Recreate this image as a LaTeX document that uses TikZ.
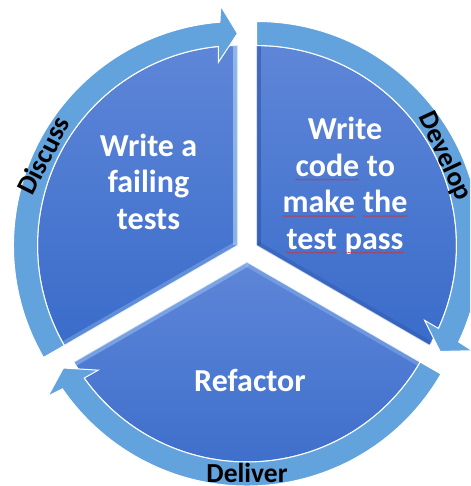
\documentclass[tikz,border=0pt]{standalone}
\usepackage{fontspec}
\setmainfont{Carlito}
\usetikzlibrary{decorations.pathmorphing}

\definecolor{ringblue}{RGB}{98,163,222}
\definecolor{pietop}{RGB}{94,134,216}
\definecolor{piebottom}{RGB}{58,108,202}
\definecolor{bevellight}{RGB}{160,198,242}
\definecolor{beveldark}{RGB}{40,78,160}
\definecolor{squigred}{RGB}{205,50,60}

% word with a red wavy underline, as left by a spell checker
\newcommand\spellmark[1]{%
  \tikz[baseline=0pt]{%
    \node[inner sep=0pt, anchor=base] (sw) at (0,0) {#1};
    \draw[squigred, line width=0.5pt, decorate,
          decoration={snake, amplitude=0.6pt, segment length=3pt}]
      ([yshift=-3.5pt]sw.base west) -- ([yshift=-3.5pt]sw.base east);}}

% curved cycle arrow: #1 centre, #2 start angle, #3 angle of the tip (clockwise)
\newcommand\ringarrow[3]{%
  \begin{scope}[shift={(#1)}]
    \path[ringarrow] (#2:224) arc[start angle=#2, end angle=#3+4.5, radius=224]
      -- (#3+4:240) -- (#3:212) -- (#3+6:184) -- (#3+5.5:200)
      arc[start angle=#3+5.5, end angle=#2, radius=200] -- cycle;
  \end{scope}}

\begin{document}
\begin{tikzpicture}[x=1pt,y=1pt,
  sectorfill/.style={top color=pietop, bottom color=piebottom, draw=white, line width=1.2pt},
  ringarrow/.style={fill=ringblue, draw=white, line width=1pt, line join=miter},
  steptext/.style={text=white, font=\fontsize{32}{36.5}\selectfont\bfseries, align=center, inner sep=0pt},
  cyclabel/.style={text=black, font=\fontsize{27.5}{30}\selectfont\bfseries, inner sep=0pt, text height=13pt, text depth=0pt},
  bevel/.style={line width=9pt, line cap=butt}]
\useasboundingbox (0,0) rectangle (470,486);
\clip (0,0) rectangle (470,486);
\fill[white] (0,0) rectangle (470,486);

\coordinate (cTL) at (237.5,240.5);
\coordinate (cTR) at (256.5,240.5);
\coordinate (cB)  at (247,224);

% three pie sectors, pulled apart
\begin{scope}[shift={(cTL)}]
  \path[sectorfill] (0,0) -- (210:200) arc[start angle=210, end angle=90, radius=200] -- cycle;
  \begin{scope}
    \clip (0,0) -- (210:200) arc[start angle=210, end angle=90, radius=200] -- cycle;
    \draw[bevel, bevellight, opacity=.75] (0,0) -- (90:200);
    \draw[bevel, bevellight, opacity=.35] (0,0) -- (210:200);
  \end{scope}
\end{scope}
\begin{scope}[shift={(cTR)}]
  \path[sectorfill] (0,0) -- (90:200) arc[start angle=90, end angle=-30, radius=200] -- cycle;
  \begin{scope}
    \clip (0,0) -- (90:200) arc[start angle=90, end angle=-30, radius=200] -- cycle;
    \draw[bevel, beveldark, opacity=.5] (0,0) -- (90:200);
    \draw[bevel, beveldark, opacity=.3] (0,0) -- (-30:200);
  \end{scope}
\end{scope}
\begin{scope}[shift={(cB)}]
  \path[sectorfill] (0,0) -- (-30:200) arc[start angle=-30, end angle=-150, radius=200] -- cycle;
  \begin{scope}
    \clip (0,0) -- (-30:200) arc[start angle=-30, end angle=-150, radius=200] -- cycle;
    \draw[bevel, bevellight, opacity=.5] (0,0) -- (210:200);
    \draw[bevel, bevellight, opacity=.35] (0,0) -- (-30:200);
  \end{scope}
\end{scope}

% ring of arrows
\ringarrow{cTL}{210}{90}
\ringarrow{cTR}{90}{-30}
\ringarrow{cB}{330}{210}

% step texts
\node[steptext] (stepTest) at (148.5,304.5) {Write a\\failing\\tests};
\node[steptext] (stepCode) at (345,300.3) {Write\\\spellmark{code} to\\\spellmark{make} \spellmark{the}\\\spellmark{test} \spellmark{pass}};
\node[steptext] (stepRefactor) at (250,105.3) {Refactor};

% phase labels on the ring
\node[cyclabel, rotate=63] (lblDiscuss) at (46,329.5) {Discuss};
\node[cyclabel, rotate=-65] (lblDevelop) at (444,329.5) {Develop};
\node[cyclabel] (lblDeliver) at (247,9.5) {Deliver};
\end{tikzpicture}
\end{document}
